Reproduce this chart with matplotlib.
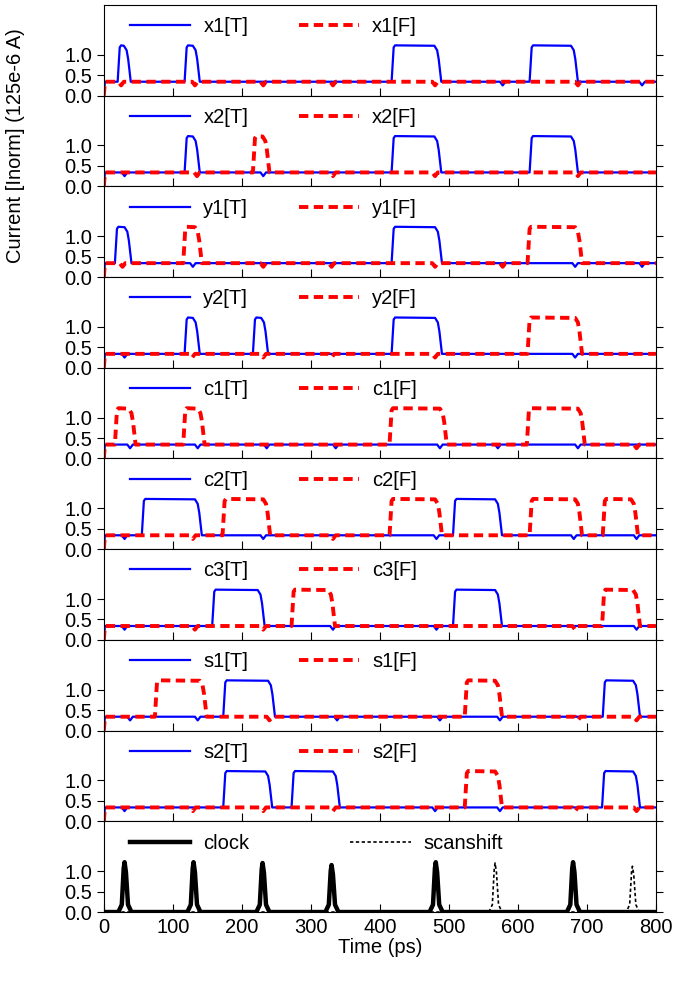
import matplotlib
matplotlib.use("Agg")
import matplotlib.pyplot as plt
import numpy as np

plt.rcParams['font.family'] = ['Liberation Sans', 'DejaVu Sans']
plt.rcParams['font.size'] = 14.5

# signal names, one panel each
names = ["x1", "x2", "y1", "y2", "c1", "c2", "c3", "s1", "s2"]

# pulses (start ps, end ps)
pulses_T = {
    "x1": [(20, 39), (117, 139), (417, 489), (617, 687)],
    "x2": [(117, 139), (417, 489), (617, 687)],
    "y1": [(16, 40), (417, 490)],
    "y2": [(117, 139), (216, 238), (417, 490)],
    "c1": [],
    "c2": [(55, 142), (506, 577)],
    "c3": [(157, 233), (506, 577)],
    "s1": [(173, 248), (723, 777)],
    "s2": [(173, 244), (272, 342), (722, 777)],
}
pulses_F = {
    "x1": [],
    "x2": [(216, 240)],
    "y1": [(115, 142), (614, 693)],
    "y2": [(614, 693)],
    "c1": [(16, 46), (115, 146), (414, 497), (613, 697)],
    "c2": [(172, 241), (414, 490), (617, 693), (723, 774)],
    "c3": [(272, 335), (722, 777)],
    "s1": [(74, 149), (523, 577)],
    "s2": [(523, 577)],
}
# small dips in the baseline (ps)
dips_T = {
    "x1": [578, 780], "x2": [30, 231], "y1": [129, 683, 780], "y2": [30, 683],
    "c1": [38, 136, 236, 336, 487, 571, 687], "c2": [30, 231, 482, 681, 772],
    "c3": [30, 332, 482, 772], "s1": [38, 136, 338, 487, 574], "s2": [30, 480, 574],
}
dips_F = {
    "x1": [25, 132, 231, 332, 480, 687], "x2": [135, 332, 480, 687],
    "y1": [27, 231, 330, 480, 578], "y2": [128, 231, 330, 480],
    "c1": [772], "c2": [129, 332], "c3": [132, 231, 683],
    "s1": [240, 687, 772], "s2": [129, 231, 332, 683, 772],
}

# clock / scanshift peaks (center ps, height)
clock_peaks = [(30, 1.22), (130, 1.22), (230, 1.2), (330, 1.15), (481, 1.22), (680, 1.22)]
scan_peaks = [(567, 1.2), (766, 1.12)]

base = 0.34
top = 1.23
t = np.linspace(0, 800, 3201)


def wave(pulses, dips):
    pts = [(0, 0.0), (1.5, base), (800, base)]
    for a, b in pulses:
        pts += [(a, base), (a + 3, top - 0.05), (a + 5, top),
                (max(a + 6, b - 10), top - 0.01), (b - 6, top - 0.12), (b - 4, top - 0.3), (b, base)]
    for d in dips:
        pts += [(d - 4, base), (d, base - 0.09), (d + 4, base)]
    pts.sort()
    xs, ys = zip(*pts)
    return np.interp(t, xs, ys)


def peaks(plist):
    pts = [(0, 0.0), (800, 0.0)]
    for c, h in plist:
        pts += [(c - 9, 0.0), (c - 4, 0.18), (c - 1.5, h * 0.85), (c, h),
                (c + 2, h * 0.8), (c + 5, 0.18), (c + 10, 0.0)]
    pts.sort()
    xs, ys = zip(*pts)
    return np.interp(t, xs, ys)


fig, axes = plt.subplots(10, 1, figsize=(6.97, 9.81), sharex=True)
fig.subplots_adjust(left=0.149, right=0.941, top=0.995, bottom=0.0703, hspace=0)

for i, ax in enumerate(axes):
    if i < 9:
        n = names[i]
        ax.plot(t, wave(pulses_T[n], dips_T[n]), color="#0000ff", lw=1.6, label=n + "[T]")
        ax.plot(t, wave(pulses_F[n], dips_F[n]), color="#ff0000", lw=2.8,
                ls=(0, (2.4, 1.4)), label=n + "[F]")
        colsp = 2.5
    else:
        ax.plot(t, peaks(clock_peaks), color="black", lw=3.2, label="clock")
        ax.plot(t, peaks(scan_peaks), color="black", lw=1.2, ls=(0, (2, 1.5)), label="scanshift")
        colsp = 5.0
    ax.legend(ncol=2, loc="center left", bbox_to_anchor=(0.047, 0.76), frameon=False,
              borderaxespad=0, borderpad=0, handlelength=3.0, handletextpad=0.65,
              columnspacing=colsp, fontsize=14.5)
    ax.set_xlim(0, 800)
    ax.set_ylim(0, 2.22)
    ax.set_yticks([0, 0.5, 1.0])
    ax.set_yticklabels(["0.0", "0.5", "1.0"])
    ax.set_xticks(np.arange(0, 801, 100))
    ax.tick_params(axis="x", direction="in", length=6, labelsize=14.5, pad=4)
    ax.tick_params(axis="y", direction="out", length=5, labelsize=14.5, right=True, labelright=False)

axes[-1].set_xlabel("Time (ps)", fontsize=14.5, labelpad=1)
fig.text(0.022, 0.852, "Current [Inorm] (125e-6 A)", rotation=90, ha="center", va="center", fontsize=14.5)

fig.savefig("out.png", dpi=100)
